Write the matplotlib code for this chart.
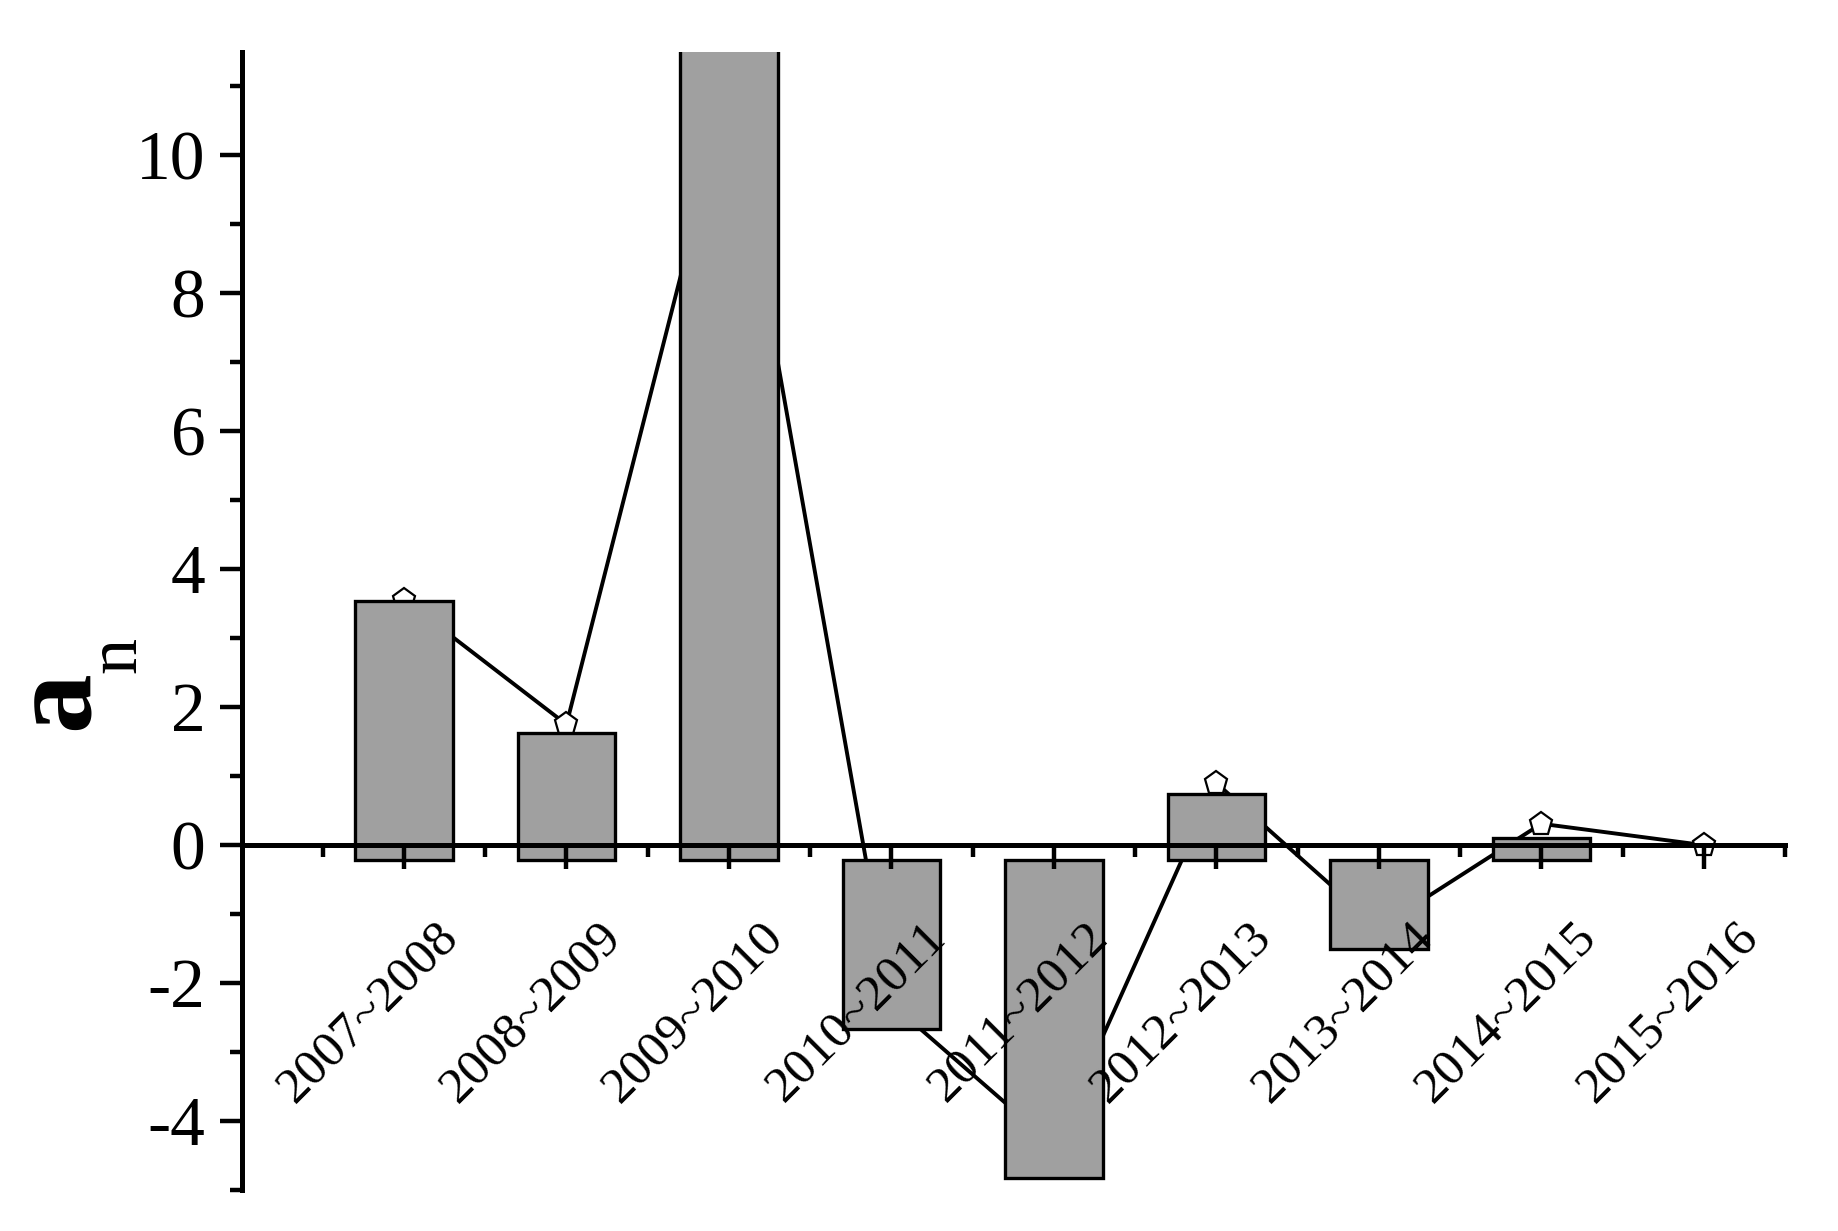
import numpy as np
import matplotlib
matplotlib.use("Agg")
import matplotlib.pyplot as plt
from matplotlib import font_manager
from matplotlib.transforms import ScaledTranslation

_names = {f.name for f in font_manager.fontManager.ttflist}
SERIF = next((n for n in ["Liberation Serif", "Times New Roman", "Nimbus Roman",
                          "TeX Gyre Termes", "STIXGeneral", "DejaVu Serif"]
              if n in _names), "serif")
plt.rcParams["font.family"] = [SERIF, "DejaVu Serif"]
plt.rcParams["axes.unicode_minus"] = False

# ---- data ----
periods = ["2007~2008", "2008~2009", "2009~2010", "2010~2011", "2011~2012",
           "2012~2013", "2013~2014", "2014~2015", "2015~2016"]
bar_values = [3.54, 1.62, 12.0, -2.67, -4.82, 0.74, -1.51, 0.10, np.nan]
line_values = [3.56, 1.75, 11.0, -2.30, -4.35, 0.90, -1.20, 0.31, 0.0]
y_major_ticks = [-4, -2, 0, 2, 4, 6, 8, 10]
y_minor_ticks = [-5, -3, -1, 1, 3, 5, 7, 9, 11]

BAR_BASE = -0.22

fig = plt.figure(figsize=(18.38, 12.31), dpi=100)
ax = fig.add_axes([0.1314, 0.0333, 0.8398, 0.9245])

x = np.arange(len(periods))
heights = np.array(bar_values, dtype=float) - BAR_BASE
ax.plot(x, line_values, color="black", lw=2.8, marker="p", ms=17,
        mfc="white", mec="black", mew=1.6, zorder=1)
ax.bar(x, heights, bottom=BAR_BASE, width=0.6, color="#a0a0a0",
       edgecolor="black", linewidth=2.4, zorder=2)

ax.set_xlim(-1, 8.5)
ax.set_ylim(-5, 11.5)

for s in ["top", "right"]:
    ax.spines[s].set_visible(False)
ax.spines["bottom"].set_position(("data", 0))
for s in ["left", "bottom"]:
    ax.spines[s].set_linewidth(3.6)
    ax.spines[s].set_zorder(3)
ax.set_axisbelow(False)

ax.set_xticks(x)
ax.set_xticks(np.arange(-0.5, 8.6, 1.0), minor=True)
ax.set_yticks(y_major_ticks)
ax.set_yticks(y_minor_ticks, minor=True)

ax.tick_params(axis="x", which="major", direction="out", length=17, width=3.2,
               labelbottom=False)
ax.tick_params(axis="x", which="minor", direction="out", length=8.5, width=3.2)
ax.tick_params(axis="y", which="major", direction="out", length=16, width=3.2,
               labelsize=50, pad=10)
ax.tick_params(axis="y", which="minor", direction="out", length=8.5, width=3.2)

off = ScaledTranslation(34 / 72, -61 / 72, fig.dpi_scale_trans)
for xi, lab in zip(x, periods):
    ax.text(xi, 0, lab, transform=ax.transData + off, rotation=45,
            rotation_mode="anchor", ha="right", va="center", fontsize=37,
            zorder=4)

fig.text(58.7 / 1838, 1 - 700 / 1231, "a", rotation=90, fontsize=86,
         fontweight="bold", ha="center", va="center")
fig.text(117.5 / 1838, 1 - 655 / 1231, "n", rotation=90, fontsize=52,
         ha="center", va="center")

fig.savefig("out.png", dpi=100)
